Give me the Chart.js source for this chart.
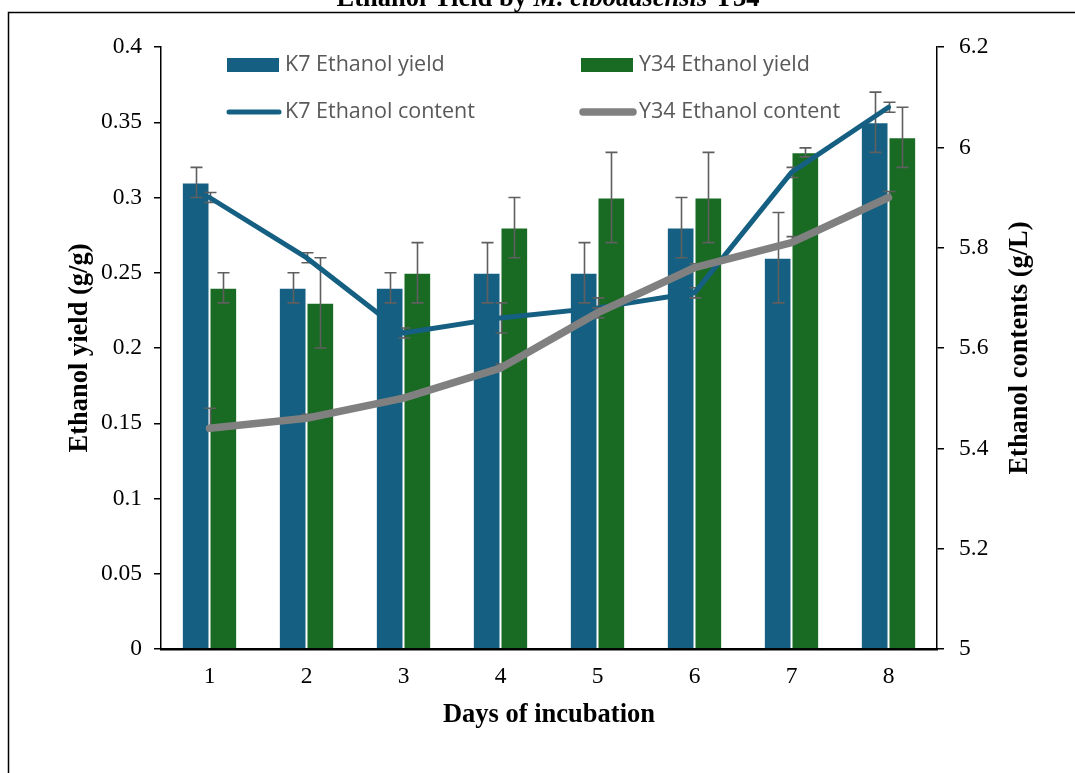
<!DOCTYPE html>
<html>
<head>
<meta charset="utf-8">
<script src="https://cdn.jsdelivr.net/npm/chart.js@4.4.1/dist/chart.umd.min.js"></script>
<style>
  html, body { margin: 0; padding: 0; background: #ffffff; }
  #wrap { position: relative; width: 1075px; height: 773px; overflow: hidden; }
</style>
</head>
<body>
<div id="wrap"><canvas id="c" width="1075" height="773"></canvas></div>
<script>
// ---------- data ----------
const days = ['1', '2', '3', '4', '5', '6', '7', '8'];
const k7Yield      = [0.31, 0.24, 0.24, 0.25, 0.25, 0.28, 0.26, 0.35];
const k7YieldErr   = [0.01, 0.01, 0.01, 0.02, 0.02, 0.02, 0.03, 0.02];
const y34Yield     = [0.24, 0.23, 0.25, 0.28, 0.30, 0.30, 0.33, 0.34];
const y34YieldErr  = [0.01, 0.03, 0.02, 0.02, 0.03, 0.03, 0.003, 0.02];
const k7Content    = [5.90, 5.78, 5.63, 5.66, 5.68, 5.71, 5.95, 6.08];
const k7ContentErr = [0.01, 0.01, 0.01, 0.03, 0.02, 0.01, 0.01, 0.01];
const y34Content    = [5.44, 5.46, 5.50, 5.56, 5.67, 5.76, 5.81, 5.90];
const y34ContentErr = [0.04, 0.008, 0.005, 0.008, 0.01, 0.008, 0.012, 0.012];
const yieldTickLabels   = ['0', '0.05', '0.1', '0.15', '0.2', '0.25', '0.3', '0.35', '0.4'];
const contentTickLabels = ['5', '5.2', '5.4', '5.6', '5.8', '6', '6.2'];
const chartTitleParts = [
  { text: 'Ethanol Yield by ', italic: false },
  { text: 'M. cibodasensis', italic: true },
  { text: ' Y34', italic: false }
];
const leftAxisTitle  = 'Ethanol yield (g/g)';
const rightAxisTitle = 'Ethanol contents (g/L)';
const xAxisTitle     = 'Days of incubation';

// ---------- styles ----------
const BLUE = '#156082';
const GREEN = '#196B24';
const GRAY = '#808080';
const ERR = '#5f5f5f';
const SERIF = '"Liberation Serif", "Times New Roman", serif';
const SANS = '"Open Sans", "Noto Sans", sans-serif';
const TICK_SIZE = 23.5;
const TITLE_SIZE = 26.5;

// ---------- plugins ----------
function drawErr(chart, idx) {
  const ds = chart.data.datasets[idx];
  if (!ds.errPlus) return;
  const meta = chart.getDatasetMeta(idx);
  const scale = chart.scales[meta.yAxisID];
  const ctx = chart.ctx;
  ctx.save();
  ctx.strokeStyle = ERR;
  ctx.lineWidth = 1.6;
  ds.data.forEach((v, i) => {
    const el = meta.data[i];
    const x = Math.round(el.x) + 0.5;
    const p = ds.errPlus[i] || 0;
    const m = ds.errMinus ? (ds.errMinus[i] || 0) : 0;
    const yT = scale.getPixelForValue(v + p);
    const yB = scale.getPixelForValue(v - m);
    const cw = 6;
    ctx.beginPath();
    ctx.moveTo(x, yT); ctx.lineTo(x, yB);
    if (p > 0) { ctx.moveTo(x - cw, yT); ctx.lineTo(x + cw, yT); }
    if (m > 0) { ctx.moveTo(x - cw, yB); ctx.lineTo(x + cw, yB); }
    ctx.stroke();
  });
  ctx.restore();
}

const errorBarsPlugin = {
  id: 'errorBars',
  beforeDatasetDraw(chart, args) {
    if (chart.data.datasets[args.index].type === 'line') drawErr(chart, args.index);
  },
  afterDatasetDraw(chart, args) {
    if (chart.data.datasets[args.index].type !== 'line') drawErr(chart, args.index);
  }
};

const decorPlugin = {
  id: 'decor',
  afterDraw(chart) {
    const ctx = chart.ctx;
    const area = chart.chartArea;
    ctx.save();
    // outer frame
    ctx.strokeStyle = '#000';
    ctx.lineWidth = 1.5;
    ctx.beginPath();
    ctx.moveTo(8.5, 773); ctx.lineTo(8.5, 12.5); ctx.lineTo(1075, 12.5);
    ctx.stroke();

    // chart title (mostly cut off at the top)
    const fontN = 'bold ' + TITLE_SIZE + 'px ' + SERIF;
    const fontI = 'italic bold ' + TITLE_SIZE + 'px ' + SERIF;
    let total = 0;
    chartTitleParts.forEach(p => { ctx.font = p.italic ? fontI : fontN; total += ctx.measureText(p.text).width; });
    let x = 548 - total / 2;
    ctx.fillStyle = '#000';
    ctx.textBaseline = 'alphabetic';
    ctx.textAlign = 'left';
    chartTitleParts.forEach(p => {
      ctx.font = p.italic ? fontI : fontN;
      ctx.fillText(p.text, x, 6);
      x += ctx.measureText(p.text).width;
    });

    // right axis title (reads bottom to top)
    ctx.save();
    ctx.translate(1020, (area.top + area.bottom) / 2);
    ctx.rotate(-Math.PI / 2);
    ctx.font = 'bold ' + TITLE_SIZE + 'px ' + SERIF;
    ctx.textAlign = 'center';
    ctx.textBaseline = 'middle';
    ctx.fillText(rightAxisTitle, 0, 0);
    ctx.restore();

    // legend (2 x 2 grid inside plot)
    const ds = chart.data.datasets;
    const cols = [227, 581];
    const rows = [65, 112];
    const layout = [[0, 0], [1, 0], [0, 1], [1, 1]];
    ctx.font = '21.5px ' + SANS;
    ctx.textBaseline = 'middle';
    ctx.textAlign = 'left';
    [0, 1, 2, 3].forEach((di, k) => {
      const d = ds[di];
      const cx = cols[layout[k][0]];
      const cy = rows[layout[k][1]];
      if (d.type === 'line') {
        ctx.strokeStyle = d.borderColor;
        ctx.lineWidth = d.borderWidth;
        ctx.lineCap = 'round';
        ctx.beginPath();
        ctx.moveTo(cx + 2, cy); ctx.lineTo(cx + 52, cy);
        ctx.stroke();
      } else {
        ctx.fillStyle = d.backgroundColor;
        ctx.fillRect(cx, cy - 7, 52, 14);
      }
      ctx.fillStyle = '#595959';
      ctx.fillText(d.label, cx + 58, cy);
    });
    ctx.restore();
  }
};

// ---------- chart ----------
new Chart(document.getElementById('c'), {
  data: {
    labels: days,
    datasets: [
      { type: 'bar', label: 'K7 Ethanol yield', data: k7Yield, errPlus: k7YieldErr, errMinus: k7YieldErr,
        backgroundColor: BLUE, borderColor: 'rgba(255,255,255,0.3)', borderWidth: 1, yAxisID: 'y', order: 2,
        categoryPercentage: 0.57, barPercentage: 1.0 },
      { type: 'bar', label: 'Y34 Ethanol yield', data: y34Yield, errPlus: y34YieldErr, errMinus: y34YieldErr,
        backgroundColor: GREEN, borderColor: 'rgba(255,255,255,0.3)', borderWidth: 1, yAxisID: 'y', order: 3,
        categoryPercentage: 0.57, barPercentage: 1.0 },
      { type: 'line', label: 'K7 Ethanol content', data: k7Content, errPlus: k7ContentErr, errMinus: k7ContentErr,
        borderColor: BLUE, backgroundColor: BLUE, borderWidth: 5, pointRadius: 0, tension: 0,
        borderJoinStyle: 'round', borderCapStyle: 'round', yAxisID: 'y1', order: 1 },
      { type: 'line', label: 'Y34 Ethanol content', data: y34Content, errPlus: y34ContentErr,
        borderColor: GRAY, backgroundColor: GRAY, borderWidth: 7.5, pointRadius: 0, tension: 0,
        borderJoinStyle: 'round', borderCapStyle: 'round', yAxisID: 'y1', order: 0 }
    ]
  },
  options: {
    responsive: false,
    animation: false,
    devicePixelRatio: 1,
    layout: { padding: { top: 47, left: 0, right: 0, bottom: 0 } },
    plugins: { legend: { display: false }, tooltip: { enabled: false }, title: { display: false } },
    scales: {
      x: {
        type: 'category',
        offset: true,
        grid: { display: false, drawTicks: false },
        border: { display: true, color: '#000', width: 2.5 },
        ticks: { color: '#000', font: { family: SERIF, size: TICK_SIZE }, padding: 14 },
        title: { display: true, text: xAxisTitle, color: '#000',
                 font: { family: SERIF, size: TITLE_SIZE, weight: 'bold' }, padding: { top: 0, bottom: 42 } },
        afterFit(s) { s.height = 124; }
      },
      y: {
        position: 'left',
        min: 0, max: 0.4,
        ticks: { stepSize: 0.05, color: '#000', font: { family: SERIF, size: TICK_SIZE }, padding: 12,
                 callback: (v, i) => yieldTickLabels[i] },
        grid: { display: true, drawOnChartArea: false, drawTicks: true, tickLength: 7, color: '#000', lineWidth: 1.5 },
        border: { display: true, color: '#000', width: 1.5 },
        title: { display: true, text: leftAxisTitle, color: '#000',
                 font: { family: SERIF, size: TITLE_SIZE, weight: 'bold' }, padding: { top: 64, bottom: 0 } },
        afterFit(s) { s.width = 161; }
      },
      y1: {
        position: 'right',
        min: 5, max: 6.2,
        ticks: { stepSize: 0.2, color: '#000', font: { family: SERIF, size: TICK_SIZE }, padding: 15,
                 callback: (v, i) => contentTickLabels[i] },
        grid: { display: true, drawOnChartArea: false, drawTicks: true, tickLength: 7, color: '#000', lineWidth: 1.5 },
        border: { display: true, color: '#000', width: 1.5 },
        afterFit(s) { s.width = 138; }
      }
    }
  },
  plugins: [errorBarsPlugin, decorPlugin]
});
</script>
</body>
</html>
